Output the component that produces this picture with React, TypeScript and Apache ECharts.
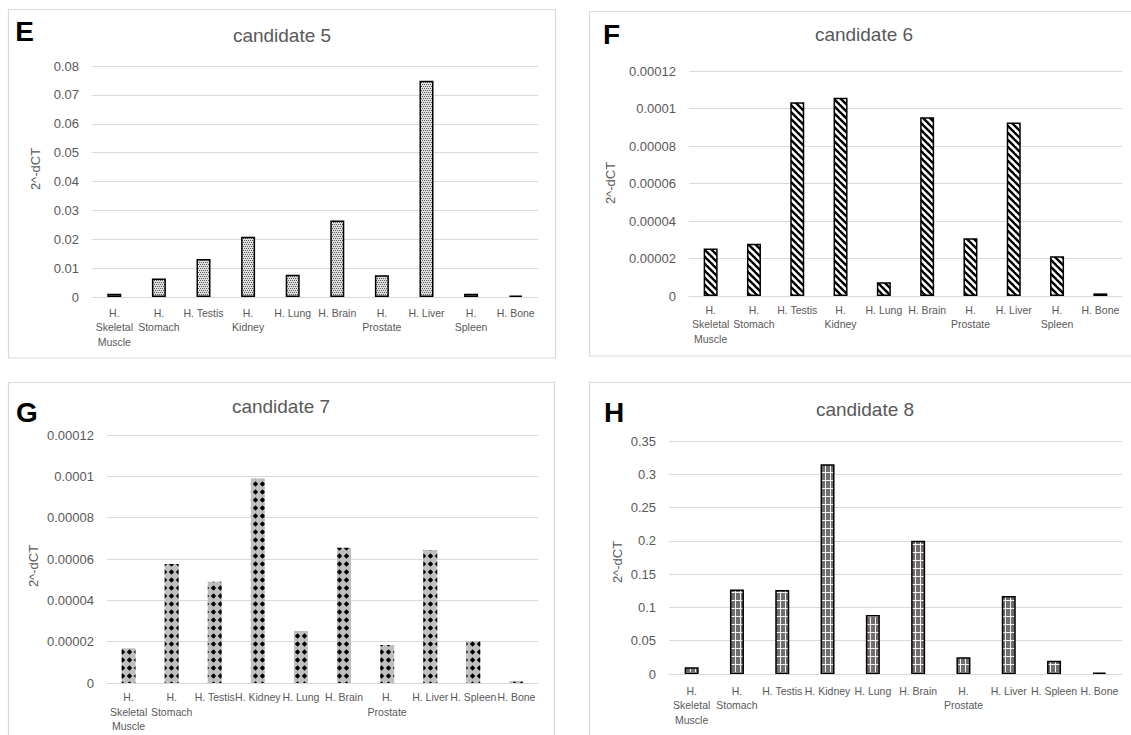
import React, { useEffect, useRef } from "react";
import * as echarts from "echarts";

// ---------- data ----------
const categoriesE = ["H.\nSkeletal\nMuscle", "H.\nStomach", "H. Testis", "H.\nKidney", "H. Lung", "H. Brain", "H.\nProstate", "H. Liver", "H.\nSpleen", "H. Bone"];
const categoriesF = ["H.\nSkeletal\nMuscle", "H.\nStomach", "H. Testis", "H.\nKidney", "H. Lung", "H. Brain", "H.\nProstate", "H. Liver", "H.\nSpleen", "H. Bone"];
const categoriesG = ["H.\nSkeletal\nMuscle", "H.\nStomach", "H. Testis", "H. Kidney", "H. Lung", "H. Brain", "H.\nProstate", "H. Liver", "H. Spleen", "H. Bone"];
const categoriesH = ["H.\nSkeletal\nMuscle", "H.\nStomach", "H. Testis", "H. Kidney", "H. Lung", "H. Brain", "H.\nProstate", "H. Liver", "H. Spleen", "H. Bone"];

const valuesE = [0.0011, 0.0064, 0.0132, 0.0209, 0.0077, 0.0265, 0.0075, 0.0749, 0.0011, 0.0005];
const valuesF = [0.0000254, 0.0000279, 0.0001033, 0.0001058, 0.0000073, 0.0000953, 0.0000308, 0.0000926, 0.0000212, 0.0000014];
const valuesG = [0.0000168, 0.0000576, 0.000049, 0.000099, 0.0000252, 0.0000655, 0.0000184, 0.0000644, 0.0000203, 0.000001];
const valuesH = [0.01, 0.127, 0.126, 0.315, 0.0886, 0.2, 0.025, 0.117, 0.02, 0.002];

const ticksE = ["0", "0.01", "0.02", "0.03", "0.04", "0.05", "0.06", "0.07", "0.08"];
const ticksF = ["0", "0.00002", "0.00004", "0.00006", "0.00008", "0.0001", "0.00012"];
const ticksG = ["0", "0.00002", "0.00004", "0.00006", "0.00008", "0.0001", "0.00012"];
const ticksH = ["0", "0.05", "0.1", "0.15", "0.2", "0.25", "0.3", "0.35"];

const titles = ["candidate 5", "candidate 6", "candidate 7", "candidate 8"];
const letters = ["E", "F", "G", "H"];
const axisName = "2^-dCT";

const FONT = '"Liberation Sans", Arial, sans-serif';
const TXT = "#595959";
const GRID = "#d9d9d9";

function tile(w: number, h: number, draw: (c: CanvasRenderingContext2D) => void) {
  const cv = document.createElement("canvas");
  cv.width = w;
  cv.height = h;
  const ctx = cv.getContext("2d")!;
  draw(ctx);
  return { image: cv.toDataURL(), repeat: "repeat", imageWidth: w, imageHeight: h };
}

export default function App() {
  const ref = useRef<HTMLDivElement>(null);
  useEffect(() => {
    if (!ref.current) return;
    const chart = echarts.init(ref.current, undefined, { renderer: "svg" });

    // patterns
    const dotted = tile(4, 4, (c) => {
      c.fillStyle = "#dedede";
      c.fillRect(0, 0, 4, 4);
      c.fillStyle = "#5a5a5a";
      c.fillRect(0, 0, 1, 1);
      c.fillRect(2, 0, 1, 1);
      c.fillRect(1, 2, 1, 1);
      c.fillRect(3, 2, 1, 1);
    });
    const striped = tile(7, 7, (c) => {
      c.fillStyle = "#ffffff";
      c.fillRect(0, 0, 7, 7);
      c.strokeStyle = "#000000";
      c.lineWidth = 2.4;
      for (const k of [-7, 0, 7]) {
        c.beginPath();
        c.moveTo(k - 1, -1);
        c.lineTo(k + 8, 8);
        c.stroke();
      }
    });
    const diamonds = tile(7, 8, (c) => {
      c.fillStyle = "#bfbfbf";
      c.fillRect(0, 0, 7, 8);
      c.fillStyle = "#000000";
      c.beginPath();
      c.moveTo(3.5, 1.2);
      c.lineTo(6.2, 4);
      c.lineTo(3.5, 6.8);
      c.lineTo(0.8, 4);
      c.closePath();
      c.fill();
    });
    const plaid = tile(5, 8, (c) => {
      c.fillStyle = "#726d6d";
      c.fillRect(0, 0, 5, 8);
      c.fillStyle = "#f2f2f2";
      c.fillRect(0, 0, 1, 8);
      c.fillRect(0, 0, 5, 1);
    });

    const panels = [
      { cats: categoriesE, vals: valuesE, ticks: ticksE, max: 0.08, interval: 0.01, grid: { left: 92, right: 1131 - 538, top: 66, bottom: 735 - 297 }, fill: dotted, border: 1.5, labelMargin: 8.5 },
      { cats: categoriesF, vals: valuesF, ticks: ticksF, max: 0.00012, interval: 0.00002, grid: { left: 689, right: 1131 - 1122, top: 71, bottom: 735 - 296 }, fill: striped, border: 1.5, labelMargin: 6.5 },
      { cats: categoriesG, vals: valuesG, ticks: ticksG, max: 0.00012, interval: 0.00002, grid: { left: 107, right: 1131 - 538, top: 435, bottom: 735 - 683 }, fill: diamonds, border: 0, labelMargin: 7 },
      { cats: categoriesH, vals: valuesH, ticks: ticksH, max: 0.35, interval: 0.05, grid: { left: 669, right: 1131 - 1122, top: 441, bottom: 735 - 674 }, fill: plaid, border: 1.5, labelMargin: 9.5 },
    ];

    const frames = [
      { x: 8.5, y: 9.5, w: 547, h: 348.5 },
      { x: 589.5, y: 11.5, w: 560, h: 344.5 },
      { x: 8.5, y: 382.5, w: 546, h: 370 },
      { x: 589.5, y: 382.5, w: 560, h: 370 },
    ];
    const letterPos = [
      { x: 24.5, y: 31 },
      { x: 611.5, y: 34 },
      { x: 27, y: 412 },
      { x: 614, y: 412 },
    ];
    const titlePos = [
      { x: 282, y: 35 },
      { x: 864, y: 34 },
      { x: 281, y: 406 },
      { x: 865, y: 409 },
    ];
    const namePos = [
      { x: 35, y: 169 },
      { x: 610, y: 183 },
      { x: 33, y: 566 },
      { x: 617, y: 562 },
    ];

    const graphic: any[] = [];
    frames.forEach((f) => {
      graphic.push({ type: "rect", shape: { x: f.x, y: f.y, width: f.w, height: f.h }, style: { fill: "none", stroke: GRID, lineWidth: 1.2 }, silent: true });
    });
    letters.forEach((l, i) => {
      graphic.push({ type: "text", x: letterPos[i].x, y: letterPos[i].y, style: { text: l, fill: "#000", fontSize: 28, fontWeight: "bold", fontFamily: FONT, textAlign: "center", textVerticalAlign: "middle", align: "center", verticalAlign: "middle" } });
    });
    titles.forEach((t, i) => {
      graphic.push({ type: "text", x: titlePos[i].x, y: titlePos[i].y, style: { text: t, fill: TXT, fontSize: 19, fontFamily: FONT, textAlign: "center", textVerticalAlign: "middle", align: "center", verticalAlign: "middle" } });
    });
    namePos.forEach((p) => {
      graphic.push({ type: "text", x: p.x, y: p.y, rotation: Math.PI / 2, style: { text: axisName, fill: TXT, fontSize: 13, fontFamily: FONT, textAlign: "center", textVerticalAlign: "middle", align: "center", verticalAlign: "middle" } });
    });

    const option: any = {
      animation: false,
      backgroundColor: "#ffffff",
      textStyle: { fontFamily: FONT },
      graphic,
      grid: panels.map((p) => ({ ...p.grid, containLabel: false })),
      xAxis: panels.map((p, i) => ({
        type: "category",
        gridIndex: i,
        data: p.cats,
        axisLine: { show: true, lineStyle: { color: GRID, width: 1 } },
        axisTick: { show: false },
        axisLabel: { interval: 0, color: TXT, fontSize: 10.5, lineHeight: 14.5, margin: p.labelMargin, fontFamily: FONT },
      })),
      yAxis: panels.map((p, i) => ({
        type: "value",
        gridIndex: i,
        min: 0,
        max: p.max,
        interval: p.interval,
        axisLine: { show: false },
        axisTick: { show: false },
        splitLine: { show: true, lineStyle: { color: GRID, width: 1 } },
        axisLabel: {
          color: TXT,
          fontSize: 13,
          margin: 13,
          fontFamily: FONT,
          formatter: (v: number) => p.ticks[Math.round(v / p.interval)] ?? String(v),
        },
      })),
      series: panels.map((p, i) => ({
        type: "bar",
        xAxisIndex: i,
        yAxisIndex: i,
        data: p.vals,
        barWidth: 14,
        itemStyle: { color: p.fill, borderColor: "#000000", borderWidth: p.border },
      })),
    };
    chart.setOption(option);
    return () => chart.dispose();
  }, []);

  return <div ref={ref} style={{ position: "absolute", left: 0, top: 0, width: 1131, height: 735, background: "#fff" }} />;
}
